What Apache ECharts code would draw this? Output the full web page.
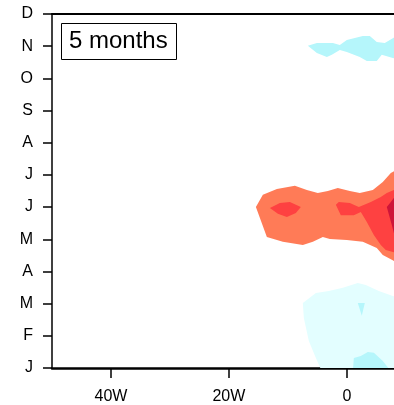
<!DOCTYPE html>
<html><head><meta charset="utf-8">
<script src="https://cdn.jsdelivr.net/npm/echarts@6/dist/echarts.min.js"></script>
<style>html,body{margin:0;padding:0;background:#fff}#c{width:394px;height:405px}</style>
</head><body><div id="c"></div>
<script>
// Tick labels
var monthLabels = ['J','F','M','A','M','J','J','A','S','O','N','D'];
var lonTicks = [-40, -20, 0];
var lonTickLabels = ['40W', '20W', '0'];
var panelTitle = '5 months';

// Contour polygons in data units: [longitude (deg E), month index]
var warm1 = [[-15.42,5.00],[-14.24,5.38],[-11.86,5.56],[-8.81,5.66],[-6.78,5.53],[-4.92,5.44],[-3.22,5.50],[-1.53,5.59],[0.51,5.50],[2.20,5.44],[4.41,5.53],[6.10,5.78],[7.46,6.06],[8.98,6.21],[8.98,3.23],[7.63,3.36],[6.10,3.51],[5.08,3.73],[2.71,3.92],[0,3.98],[-2.88,4.01],[-4.07,4.07],[-5.76,3.92],[-7.46,3.82],[-10.85,3.92],[-13.56,4.07]];
var warm2a = [[-13.05,4.97],[-11.36,5.13],[-9.66,5.16],[-7.80,5.00],[-8.64,4.82],[-10.17,4.69],[-11.69,4.79]];
var warm2b = [[-1.86,5.07],[-1.36,5.16],[0.51,5.13],[2.03,5.00],[4.07,5.16],[5.76,5.31],[6.78,5.44],[7.97,5.53],[8.98,5.62],[8.98,3.54],[7.97,3.60],[6.61,3.67],[5.76,3.82],[4.58,4.13],[3.39,4.54],[2.37,4.85],[1.19,4.75],[-1.02,4.75]];
var warm3 = [[6.78,5.00],[7.46,5.16],[7.97,5.28],[8.98,5.41],[8.98,3.82],[7.97,4.20],[7.63,4.44]];
var cool1 = [[-4.24,-0.1],[-5.25,0.31],[-6.44,0.84],[-7.29,1.55],[-7.46,2.02],[-5.25,2.33],[-3.05,2.39],[-0.68,2.49],[1.86,2.64],[3.22,2.58],[5.42,2.39],[7.80,2.24],[8.98,2.18],[8.98,-0.1]];
var cool2a = [[1.86,2.02],[3.05,2.02],[2.54,1.62]];
var cool2b = [[1.02,-0.1],[1.19,0.31],[2.37,0.37],[3.56,0.50],[4.58,0.47],[6.10,0.22],[7.46,-0.1]];
var cool2c = [[-6.61,10.01],[-5.08,10.10],[-2.37,10.10],[-1.19,10.04],[0,10.19],[2.71,10.32],[3.90,10.32],[5.08,10.13],[6.44,10.10],[7.80,10.25],[8.98,10.35],[8.98,9.60],[7.80,9.63],[5.93,9.73],[5.08,9.54],[3.39,9.54],[2.20,9.66],[0,9.82],[-1.19,9.88],[-2.54,9.73],[-3.39,9.66],[-5.08,9.79]];

var layers = [
  {poly: cool1, color: '#E3FEFF'},
  {poly: cool2a, color: '#B5F6FB'},
  {poly: cool2b, color: '#B5F6FB'},
  {poly: cool2c, color: '#B5F6FB'},
  {poly: warm1, color: '#FF7B57'},
  {poly: warm2a, color: '#FE4141'},
  {poly: warm2b, color: '#FE4141'},
  {poly: warm3, color: '#CE1439'}
];

var FONT = 'Liberation Sans, Arial, Helvetica, sans-serif';
var chart = echarts.init(document.getElementById('c'), null, {renderer: 'canvas'});

var series = layers.map(function (L) {
  return {
    type: 'custom',
    coordinateSystem: 'cartesian2d',
    clip: true,
    silent: true,
    data: [L.poly[0]],
    renderItem: function (params, api) {
      return {
        type: 'polygon',
        shape: {points: L.poly.map(function (p) { return api.coord(p); })},
        style: {fill: L.color, stroke: null}
      };
    }
  };
});

chart.setOption({
  animation: false,
  backgroundColor: '#fff',
  grid: {left: 52, right: 0, top: 14, bottom: 37, containLabel: false},
  xAxis: [{
    type: 'value', min: -50, max: 8, position: 'bottom',
    axisLine: {show: true, onZero: false, lineStyle: {color: '#000', width: 2.5}},
    axisTick: {show: true, customValues: lonTicks, length: 10, lineStyle: {color: '#000', width: 1.5}},
    axisLabel: {show: true, customValues: lonTicks, margin: 21, fontSize: 16, color: '#000', fontFamily: FONT,
      formatter: function (v) { var i = lonTicks.indexOf(v); return i >= 0 ? lonTickLabels[i] : ''; }},
    splitLine: {show: false}
  }, {
    type: 'value', min: -50, max: 8, position: 'top',
    axisLine: {show: true, onZero: false, lineStyle: {color: '#000', width: 2}},
    axisTick: {show: false}, axisLabel: {show: false}, splitLine: {show: false}
  }],
  yAxis: [{
    type: 'value', min: 0, max: 11, interval: 1,
    axisLine: {show: true, onZero: false, lineStyle: {color: '#000', width: 1.5}},
    axisTick: {show: true, length: 9, lineStyle: {color: '#000', width: 1.5}},
    axisLabel: {margin: 19, fontSize: 16, color: '#000', fontFamily: FONT,
      formatter: function (v) { return monthLabels[v] || ''; }},
    splitLine: {show: false}
  }],
  graphic: [{
    type: 'rect', left: 61, top: 23, z: 100,
    shape: {width: 115, height: 36},
    style: {fill: '#fff', stroke: '#000', lineWidth: 1}
  }, {
    type: 'text', left: 69, top: 29, z: 101,
    style: {text: panelTitle, font: '24px ' + FONT, fill: '#000'}
  }],
  series: series
});
</script></body></html>
